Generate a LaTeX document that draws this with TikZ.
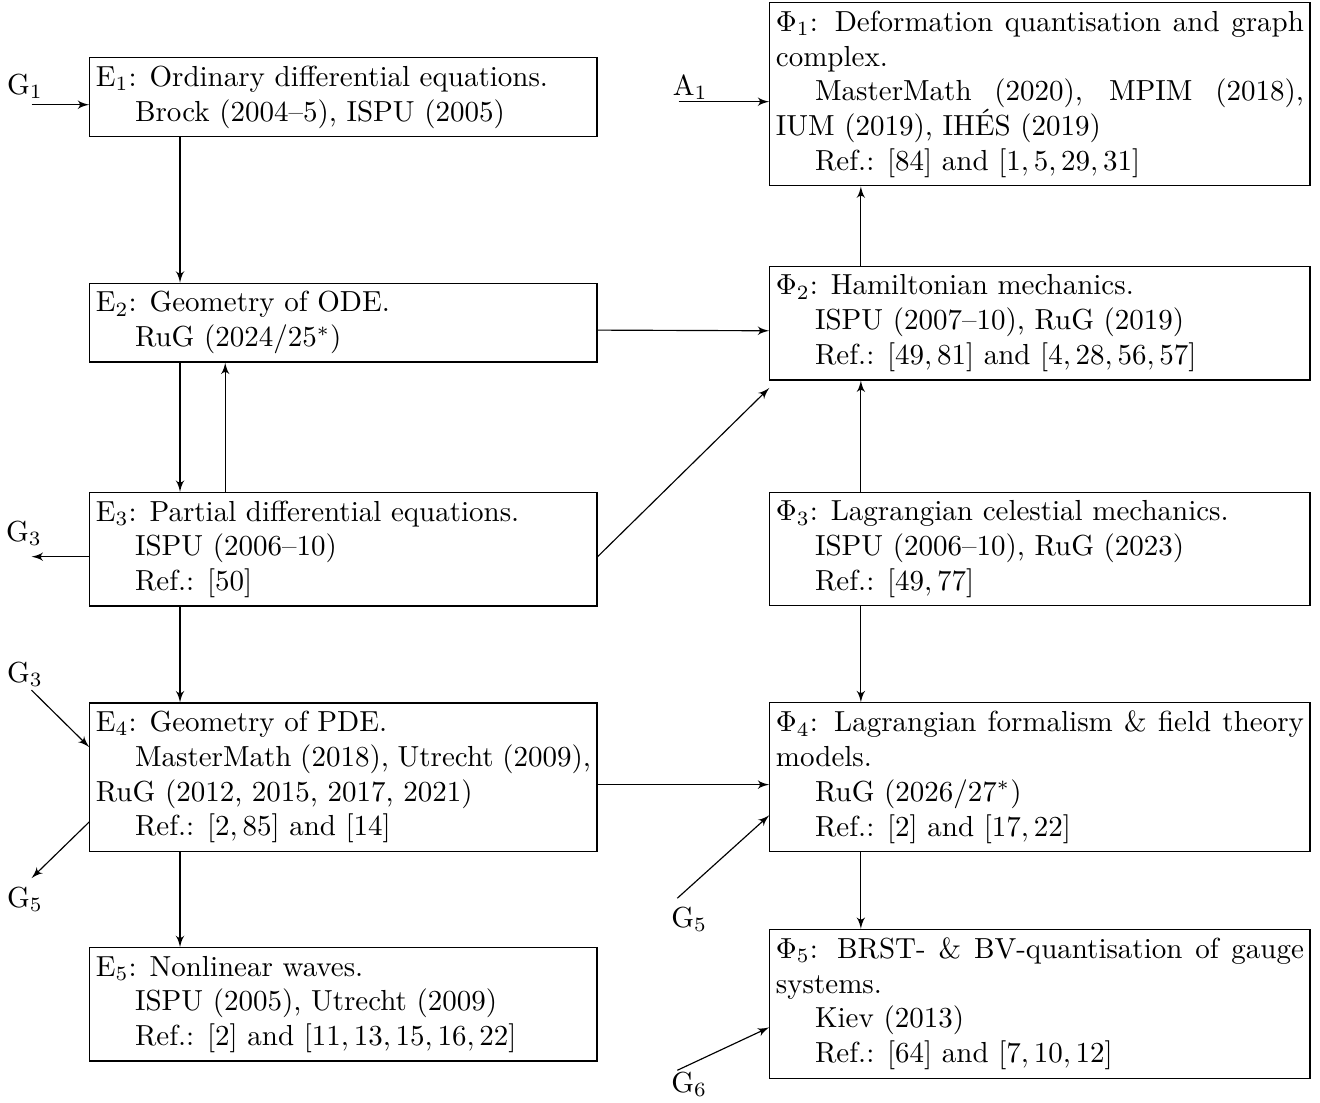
\documentclass[tikz,border=0pt]{standalone}
\usepackage{amsmath}
\usepackage{tikz}
\usetikzlibrary{arrows,positioning,calc}
\tikzset{
    block/.style={rectangle, draw, text width=6cm, align=justify, inner xsep=2.1pt, inner ysep=2.8pt, execute at begin node={\setlength{\parindent}{13.5pt}\noindent}},
    wideblock/.style={block, text width=6.4cm},
    line/.style={draw, -latex'}
}

\begin{document}
\begin{tikzpicture}
    \useasboundingbox (0,0) rectangle (16,-13.358);

    % Equations
    \node [block, anchor=north west] (E1) at (1.082,-0.695) {E$_1$: Ordinary differential equations.\par Brock (2004--5), ISPU (2005)};
    \node [block, below=1.764cm of E1] (E2) {E$_2$: Geometry of ODE.\par RuG (2024/25$^*$)};
    \node [block, below=1.567cm of E2] (E3) {E$_3$: Partial differential equations.\par ISPU (2006--10)\par Ref.: $[50]$};
    \node [block, below=1.162cm of E3] (E4) {E$_4$: Geometry of PDE.\par MasterMath (2018), Utrecht (2009), RuG (2012, 2015, 2017, 2021)\par Ref.: $[2, 85]$ and $[14]$};
    \node [block, below=1.155cm of E4] (E5) {E$_5$: Nonlinear waves.\par ISPU (2005), Utrecht (2009)\par Ref.: $[2]$ and $[11, 13, 15, 16, 22]$};

    % Physics
    \node [wideblock, right=2.081cm of E3] (Phi3) {$\Phi_3$: Lagrangian celestial mechanics.\par ISPU (2006--10), RuG (2023)\par Ref.: $[49, 77]$};
    \node [wideblock, above=1.352cm of Phi3] (Phi2) {$\Phi_2$: Hamiltonian mechanics.\par ISPU (2007--10), RuG (2019)\par Ref.: $[49, 81]$ and $[4, 28, 56, 57]$};
    \node [wideblock, above=0.967cm of Phi2] (Phi1) {$\Phi_1$: Deformation quantisation and graph complex.\par MasterMath (2020), MPIM (2018), IUM (2019), IH\'ES (2019)\par Ref.: $[84]$ and $[1, 5, 29, 31]$};
    \node [wideblock, right=2.081cm of E4] (Phi4) {$\Phi_4$: Lagrangian formalism \& field theory models.\par RuG (2026/27$^*$)\par Ref.: $[2]$ and $[17, 22]$};
    \node [wideblock, below=0.931cm of Phi4] (Phi5) {$\Phi_5$: BRST- \& BV-quantisation of gauge systems.\par Kiev (2013)\par Ref.: $[64]$ and $[7, 10, 12]$};

    % Free ends
    \coordinate (g1) at ([xshift=-0.7cm, yshift=-0.09cm]E1.west);
    \coordinate (a1) at ([xshift=-1.1cm, yshift=-0.09cm]Phi1.west);
    \coordinate (g3out) at ([xshift=-0.7cm, yshift=-0.09cm]E3.west);
    \coordinate (g3in) at ([shift={(-0.7cm,1.055cm)}]E4.west);
    \coordinate (g5out) at ([shift={(-0.7cm,-1.224cm)}]E4.west);
    \coordinate (g5in) at ([shift={(-1.115cm,-1.467cm)}]Phi4.west);
    \coordinate (g6in) at ([shift={(-1.115cm,-0.806cm)}]Phi5.west);

    % Labels
    \node (G1) at ([shift={(-0.08,0.227)}]g1) {G$_1$};
    \node (A1) at ([shift={(0.142,0.178)}]a1) {A$_1$};
    \node (G3a) at ([shift={(-0.09,0.284)}]g3out) {G$_3$};
    \node (G3b) at ([shift={(-0.08,0.19)}]g3in) {G$_3$};
    \node (G5a) at ([shift={(-0.08,-0.258)}]g5out) {G$_5$};
    \node (G5b) at ([shift={(0.145,-0.258)}]g5in) {G$_5$};
    \node (G6) at ([shift={(0.145,-0.173)}]g6in) {G$_6$};

    % Arrows
    \draw [line] (g1) -- (g1 -| E1.west);
    \draw [line] (a1) -- (a1 -| Phi1.west);
    \draw [line] ([xshift=1.1cm]E1.south west) -- ([xshift=1.1cm]E2.north west);
    \draw [line] ([xshift=1.1cm]E2.south west) -- ([xshift=1.1cm]E3.north west);
    \draw [line] ([xshift=1.648cm]E3.north west) -- ([xshift=1.648cm]E2.south west);
    \draw [line] ([xshift=1.1cm]E3.south west) -- ([xshift=1.1cm]E4.north west);
    \draw [line] ([xshift=1.1cm]E4.south west) -- ([xshift=1.1cm]E5.north west);
    \draw [line] ([yshift=-0.09cm]E2.east) -- ([yshift=-0.09cm]Phi2.west);
    \draw [line] ([yshift=-0.09cm]E3.east) -- ([yshift=-0.09cm]Phi2.south west);
    \draw [line] ([yshift=-0.09cm]E4.east) -- ([yshift=-0.09cm]Phi4.west);
    \draw [line] ([yshift=-0.09cm]E3.west) -- (g3out);
    \draw [line] (g3in) -- ([yshift=0.364cm]E4.west);
    \draw [line] ([yshift=-0.542cm]E4.west) -- (g5out);
    \draw [line] (g5in) -- ([yshift=-0.461cm]Phi4.west);
    \draw [line] (g6in) -- ([yshift=-0.285cm]Phi5.west);
    \draw [line] ([xshift=1.11cm]Phi2.north west) -- ([xshift=1.11cm]Phi1.south west);
    \draw [line] ([xshift=1.11cm]Phi3.north west) -- ([xshift=1.11cm]Phi2.south west);
    \draw [line] ([xshift=1.11cm]Phi3.south west) -- ([xshift=1.11cm]Phi4.north west);
    \draw [line] ([xshift=1.11cm]Phi4.south west) -- ([xshift=1.11cm]Phi5.north west);
\end{tikzpicture}
\end{document}
